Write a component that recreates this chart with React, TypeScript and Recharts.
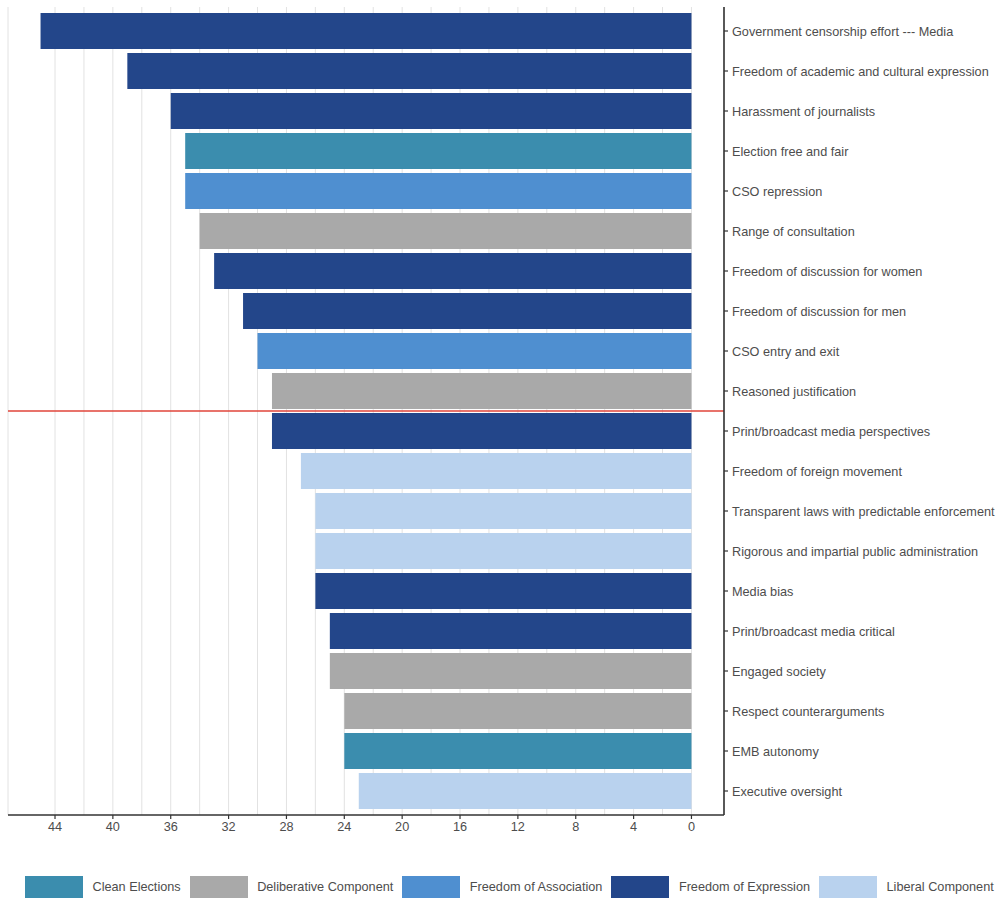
import { Bar, BarChart, CartesianGrid, Cell, Legend, ReferenceLine, XAxis, YAxis } from 'recharts';

// indicator labels, top to bottom
const LABELS = [
  'Government censorship effort --- Media',
  'Freedom of academic and cultural expression',
  'Harassment of journalists',
  'Election free and fair',
  'CSO repression',
  'Range of consultation',
  'Freedom of discussion for women',
  'Freedom of discussion for men',
  'CSO entry and exit',
  'Reasoned justification',
  'Print/broadcast media perspectives',
  'Freedom of foreign movement',
  'Transparent laws with predictable enforcement',
  'Rigorous and impartial public administration',
  'Media bias',
  'Print/broadcast media critical',
  'Engaged society',
  'Respect counterarguments',
  'EMB autonomy',
  'Executive oversight',
];

const VALUES = [45, 39, 36, 35, 35, 34, 33, 31, 30, 29, 29, 27, 26, 26, 26, 25, 25, 24, 24, 23];

const GROUPS = [
  'Freedom of Expression',
  'Freedom of Expression',
  'Freedom of Expression',
  'Clean Elections',
  'Freedom of Association',
  'Deliberative Component',
  'Freedom of Expression',
  'Freedom of Expression',
  'Freedom of Association',
  'Deliberative Component',
  'Freedom of Expression',
  'Liberal Component',
  'Liberal Component',
  'Liberal Component',
  'Freedom of Expression',
  'Freedom of Expression',
  'Deliberative Component',
  'Deliberative Component',
  'Clean Elections',
  'Liberal Component',
];

const LEGEND_GROUPS = [
  'Clean Elections',
  'Deliberative Component',
  'Freedom of Association',
  'Freedom of Expression',
  'Liberal Component',
];

const GROUP_COLORS: Record<string, string> = {
  'Clean Elections': '#3b8dae',
  'Deliberative Component': '#a9a9a9',
  'Freedom of Association': '#4f8fd0',
  'Freedom of Expression': '#23468a',
  'Liberal Component': '#b9d2ee',
};

// every 2 units gets a grid line, every 4 gets a label
const X_TICKS = [0, 2, 4, 6, 8, 10, 12, 14, 16, 18, 20, 22, 24, 26, 28, 30, 32, 34, 36, 38, 40, 42, 44];
const Y_POSITIONS = LABELS.map((_, i) => i + 1);
const CUTOFF = 10.5;

const data = LABELS.map((label, i) => ({
  pos: i + 1,
  label,
  value: VALUES[i],
  group: GROUPS[i],
}));

const FONT = '"Liberation Sans", Arial, Helvetica, sans-serif';
const FONT_SIZE = 12.7;
const AXIS = '#333333';
const TEXT = '#4d4d4d';

function XTick(props: any) {
  const { x, y, payload } = props;
  if (payload.value % 4 !== 0) return <g />;
  return (
    <g>
      <line x1={x} x2={x} y1={y - 7} y2={y - 3} stroke={AXIS} strokeWidth={1.2} />
      <text x={x} y={y} dy="0.71em" textAnchor="middle" fontSize={FONT_SIZE} fill={TEXT} fontFamily={FONT}>
        {payload.value}
      </text>
    </g>
  );
}

function YTick(props: any) {
  const { x, y, payload } = props;
  return (
    <text x={x} y={y} dy="0.38em" textAnchor="start" fontSize={FONT_SIZE} fill={TEXT} fontFamily={FONT}>
      {LABELS[payload.value - 1] ?? ''}
    </text>
  );
}

function renderLegend() {
  return (
    <div
      style={{
        display: 'flex',
        alignItems: 'center',
        height: 22,
        paddingLeft: 17,
        fontFamily: FONT,
        fontSize: FONT_SIZE,
        color: TEXT,
        whiteSpace: 'nowrap',
      }}
    >
      {LEGEND_GROUPS.map((g) => (
        <div key={g} style={{ display: 'flex', alignItems: 'center', marginRight: 9, flexShrink: 0 }}>
          <div style={{ width: 58, height: 22, background: GROUP_COLORS[g], marginRight: 9.5 }} />
          <span>{g}</span>
        </div>
      ))}
    </div>
  );
}

export default function App() {
  return (
    <div style={{ width: 1002, height: 906, fontFamily: FONT }}>
      <style>{'body{margin:0}'}</style>
      <BarChart
        width={1002}
        height={906}
        data={data}
        layout="vertical"
        margin={{ top: 7, right: 0, left: 8, bottom: 8 }}
      >
        <CartesianGrid horizontal={false} stroke="#e2e2e2" strokeWidth={1} />
        <XAxis
          type="number"
          dataKey="value"
          domain={[-2.25, 47.25]}
          ticks={X_TICKS}
          interval={0}
          reversed
          allowDataOverflow
          height={61}
          tickSize={4}
          tickMargin={3}
          stroke={AXIS}
          strokeWidth={1.6}
          tickLine={false}
          tick={<XTick />}
        />
        <YAxis
          type="number"
          dataKey="pos"
          orientation="right"
          domain={[0.4, 20.6]}
          ticks={Y_POSITIONS}
          interval={0}
          allowDataOverflow
          width={278}
          tickSize={4}
          tickMargin={4}
          stroke={AXIS}
          strokeWidth={1.6}
          tick={<YTick />}
          tickLine={{ stroke: AXIS, strokeWidth: 1.2 }}
        />
        <Bar dataKey="value" barSize={36} isAnimationActive={false}>
          {data.map((d) => (
            <Cell key={d.label} fill={GROUP_COLORS[d.group]} />
          ))}
        </Bar>
        <ReferenceLine y={CUTOFF} stroke="#e0453a" strokeWidth={1.6} />
        <Legend
          verticalAlign="bottom"
          align="left"
          content={renderLegend}
          wrapperStyle={{ height: 22 }}
        />
      </BarChart>
    </div>
  );
}
